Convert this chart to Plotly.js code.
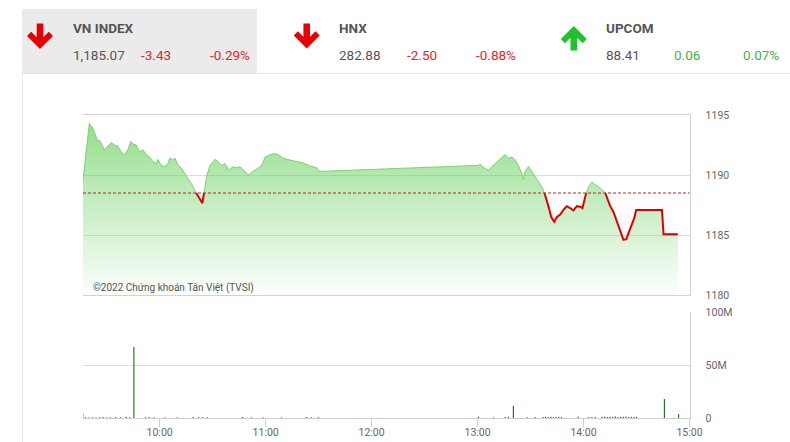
<!DOCTYPE html>
<html>
<head>
<meta charset="utf-8">
<script src="https://cdn.plot.ly/plotly-3.0.1.min.js"></script>
<style>
html,body{margin:0;padding:0;background:#fff;}
#chart{width:790px;height:442px;}
</style>
</head>
<body>
<div id="chart"></div>
<script>
// ---------- DATA ----------
const day = '2022-01-01 ';
const indexNames = ['VN INDEX', 'HNX', 'UPCOM'];
const indexValues = ['1,185.07', '282.88', '88.41'];
const indexChanges = ['-3.43', '-2.50', '0.06'];
const indexPercents = ['-0.29%', '-0.88%', '0.07%'];
const indexUp = [false, false, true];

const refValue = 1188.50;

const priceTimes = [
 '09:16:18','09:18:15','09:20:12','09:22:12','09:24:06','09:25:00','09:26:00','09:28:48','09:30:42','09:32:36',
 '09:34:30','09:36:24','09:38:12','09:40:12','09:42:00','09:43:36','09:44:54','09:46:42','09:48:42','09:50:30',
 '09:52:24','09:54:18','09:56:12','09:58:06','09:59:00','10:00:54','10:02:48','10:04:42','10:05:42','10:07:30',
 '10:08:42','10:10:24','10:12:12','10:14:12','10:16:00','10:17:54','10:19:48','10:20:42','10:22:42','10:24:12',
 '10:25:06','10:26:36','10:28:30','10:31:18','10:33:12','10:35:06','10:37:00','10:38:54','10:41:42','10:43:36',
 '10:45:30','10:47:24','10:50:12','10:52:06','10:54:00','10:55:54','10:57:48','10:59:42','11:02:30','11:04:24',
 '11:07:12','11:10:00','11:13:48','11:17:36','11:21:18','11:25:06','11:28:54','11:30:24',
 '13:00:30','13:01:30','13:02:24','13:04:18','13:06:12','13:08:06','13:10:00','13:11:48','13:13:42','13:15:36',
 '13:17:30','13:19:24','13:21:18','13:23:06','13:25:06','13:26:00','13:26:54','13:28:48','13:30:42','13:32:36',
 '13:34:30','13:36:24','13:37:54','13:39:12','13:40:30','13:41:42','13:43:24','13:44:54','13:46:48','13:48:36',
 '13:50:30','13:52:24','13:54:18','13:56:12','13:58:06','13:59:24','14:00:24','14:01:30','14:02:48','14:04:42',
 '14:06:36','14:08:30','14:10:24','14:12:18','14:13:36','14:15:06','14:17:00','14:18:54','14:20:48','14:22:36',
 '14:24:12','14:25:30','14:27:24','14:28:42','14:29:48','14:44:24','14:45:18','14:53:24'
];
const priceValues = [
 1189.2,1192.0,1194.3,1193.9,1193.2,1192.8,1192.9,1192.1,1192.4,1192.7,
 1192.5,1192.4,1191.9,1191.7,1192.1,1192.8,1192.6,1192.5,1191.9,1192.1,
 1191.7,1191.5,1191.1,1190.95,1191.3,1190.8,1190.7,1190.95,1191.4,1191.25,
 1191.4,1190.8,1190.6,1190.1,1189.7,1189.3,1188.75,1188.5,1188.05,1187.65,
 1188.5,1189.9,1190.8,1191.3,1191.1,1190.8,1190.95,1190.4,1190.7,1190.6,
 1190.7,1190.45,1190.0,1190.2,1190.4,1190.6,1190.8,1191.5,1191.7,1191.8,
 1191.7,1191.4,1191.25,1191.1,1191.0,1190.75,1190.6,1190.3,
 1190.8,1190.9,1190.7,1190.55,1190.4,1190.7,1190.95,1191.25,1191.5,1191.7,
 1191.4,1191.5,1191.25,1190.8,1190.1,1189.6,1190.3,1190.7,1190.3,1189.9,
 1189.45,1189.0,1188.5,1187.9,1187.2,1186.5,1186.1,1186.5,1186.7,1187.1,
 1187.4,1187.25,1187.05,1187.4,1187.35,1187.25,1187.9,1188.5,1189.0,1189.4,
 1189.2,1189.0,1188.8,1188.5,1187.9,1187.4,1186.9,1186.1,1185.3,1184.6,
 1184.65,1185.15,1185.8,1186.4,1187.08,1187.08,1185.07,1185.07
];

const volumeTimes = [
 '09:16:30','09:18:00','09:20:00','09:22:00','09:24:00','09:26:00','09:28:00','09:30:00','09:32:00','09:35:00',
 '09:38:00','09:41:00','09:43:00','09:45:24','09:52:00','09:54:00','09:57:00','10:03:00','10:10:00','10:19:00',
 '10:22:00','10:24:30','10:27:00','10:47:00','10:52:00','10:58:30','11:09:00','11:23:00','11:26:00','11:30:00',
 '13:00:30','13:09:00','13:15:36','13:17:30','13:20:18','13:28:00','13:32:36','13:37:00','13:38:30','13:40:00',
 '13:41:30','13:43:00','13:44:30','13:46:00','13:47:30','13:57:00','14:03:00','14:04:42','14:06:36','14:10:24',
 '14:12:00','14:13:30','14:15:00','14:16:30','14:18:00','14:19:30','14:21:00','14:22:30','14:24:00','14:25:30',
 '14:27:00','14:28:30','14:30:00','14:45:48','14:53:48'
];
const volumeValues = [
 4.2,1.0,0.8,1.1,0.7,0.9,1.2,0.8,1.0,1.3,
 1.1,1.4,0.9,67,1.0,1.2,0.9,1.1,1.0,1.3,
 1.1,0.9,1.0,1.2,0.9,1.0,1.1,1.2,0.9,1.0,
 1.4,1.0,1.2,1.5,11.9,1.0,1.2,1.3,1.5,1.2,
 1.4,1.1,1.3,1.5,1.2,1.4,1.3,1.0,1.2,1.5,
 1.6,1.3,1.4,1.5,1.7,1.3,1.5,1.4,1.6,1.3,
 1.5,1.2,1.4,18.2,4.0
];

const priceTicks = [1180, 1185, 1190, 1195];
const volumeTickVals = [0, 50, 100];
const volumeTickText = ['0', '50M', '100M'];
const copyrightText = '©2022 Chứng khoán Tân Việt (TVSI)';

// ---------- LAYOUT HELPERS ----------
const W = 790, H = 442;
const px = x => x / W;
const py = y => 1 - y / H;
const FONT = 'Roboto, "Liberation Sans", sans-serif';
const RED = '#e2262b', GREEN = '#3bb54a', GRAY = '#555555';

function arrowPath(cx, tip, tail, up) {
  const s = up ? 1 : -1;
  const pts = [
    [cx, tip],
    [cx - 13, tip + s * 13],
    [cx - 8.8, tip + s * 17.2],
    [cx - 3.3, tip + s * 11.7],
    [cx - 3.3, tail],
    [cx + 3.3, tail],
    [cx + 3.3, tip + s * 11.7],
    [cx + 8.8, tip + s * 17.2],
    [cx + 13, tip + s * 13]
  ];
  return 'M ' + pts.map(p => px(p[0]).toFixed(5) + ',' + py(p[1]).toFixed(5)).join(' L ') + ' Z';
}

const t = s => day + s;
const xs = priceTimes.map(t);
const below = priceValues.map(v => (v <= refValue ? v : null));

const traces = [
  {
    type: 'scatter', mode: 'lines', x: xs, y: priceValues, xaxis: 'x', yaxis: 'y',
    line: {color: 'rgba(105,205,95,0.85)', width: 1},
    fill: 'tozeroy',
    fillgradient: {
      type: 'vertical', start: 1180, stop: 1195,
      colorscale: [[0, 'rgba(90,205,80,0.02)'], [0.35, 'rgba(90,205,80,0.25)'], [0.7, 'rgba(90,205,80,0.48)'], [1, 'rgba(90,205,80,0.7)']]
    },
    hoverinfo: 'skip'
  },
  {
    type: 'scatter', mode: 'lines', x: xs, y: below, xaxis: 'x', yaxis: 'y',
    line: {color: '#e00000', width: 2}, connectgaps: false, hoverinfo: 'skip'
  },
  {
    type: 'bar', x: volumeTimes.map(t), y: volumeValues, xaxis: 'x2', yaxis: 'y2',
    width: 40000, marker: {color: '#1f7a1f', line: {width: 0}}, hoverinfo: 'skip'
  }
];

const xRange = [t('09:16:36'), t('15:00:00')];
const xDomain = [px(83), px(689.5)];
const axisFont = {family: FONT, size: 10.5, color: '#666'};

const annotations = [];
for (let i = 0; i < indexNames.length; i++) {
  const x0 = [72, 338, 605][i];
  const col = indexUp[i] ? GREEN : RED;
  annotations.push({xref: 'paper', yref: 'paper', x: px(x0 - 1), y: py(27.5), xanchor: 'left', yanchor: 'middle',
    text: '<b>' + indexNames[i] + '</b>', showarrow: false, font: {family: FONT, size: 13.5, color: GRAY}});
  annotations.push({xref: 'paper', yref: 'paper', x: px(x0 - 1), y: py(55), xanchor: 'left', yanchor: 'middle',
    text: indexValues[i], showarrow: false, font: {family: FONT, size: 13.5, color: GRAY}});
  annotations.push({xref: 'paper', yref: 'paper', x: px(x0 + 67), y: py(55), xanchor: 'left', yanchor: 'middle',
    text: indexChanges[i], showarrow: false, font: {family: FONT, size: 13.5, color: col}});
  annotations.push({xref: 'paper', yref: 'paper', x: px(x0 + 136.3), y: py(55), xanchor: 'left', yanchor: 'middle',
    text: indexPercents[i], showarrow: false, font: {family: FONT, size: 13.5, color: col}});
}
annotations.push({xref: 'paper', yref: 'paper', x: px(91), y: py(287.5), xanchor: 'left', yanchor: 'middle',
  text: copyrightText, showarrow: false, font: {family: FONT, size: 10, color: GRAY}});

const shapes = [
  {type: 'rect', xref: 'paper', yref: 'paper', x0: px(22), x1: px(257), y0: py(9), y1: py(73),
    fillcolor: '#ebebeb', line: {width: 0}, layer: 'below'},
  {type: 'line', xref: 'paper', yref: 'paper', x0: px(22), x1: px(790), y0: py(73.5), y1: py(73.5),
    line: {color: '#e4e4e4', width: 1}},
  {type: 'line', xref: 'paper', yref: 'paper', x0: px(22.5), x1: px(22.5), y0: py(73.5), y1: py(442),
    line: {color: '#ececec', width: 1}},
  {type: 'path', xref: 'paper', yref: 'paper', path: arrowPath(40, 49, 23.5, false), fillcolor: '#e80000', line: {width: 0}},
  {type: 'path', xref: 'paper', yref: 'paper', path: arrowPath(306.7, 48.5, 23.5, false), fillcolor: '#e80000', line: {width: 0}},
  {type: 'path', xref: 'paper', yref: 'paper', path: arrowPath(573.8, 26, 50.5, true), fillcolor: '#1fc22a', line: {width: 0}},
  {type: 'line', xref: 'x domain', yref: 'y', x0: 0, x1: 1, y0: refValue, y1: refValue,
    line: {color: '#c0201a', width: 1, dash: '3px,2px'}, layer: 'above'}
];

const layout = {
  width: W, height: H,
  margin: {l: 0, r: 0, t: 0, b: 0, pad: 0},
  paper_bgcolor: '#ffffff', plot_bgcolor: 'rgba(0,0,0,0)',
  showlegend: false,
  font: axisFont,
  xaxis: {
    type: 'date', domain: xDomain, range: xRange, anchor: 'y',
    showticklabels: false, ticks: '', showgrid: false, zeroline: false,
    showline: true, mirror: true, linecolor: '#d2d2d2', linewidth: 1
  },
  yaxis: {
    domain: [py(295), py(115)], range: [1180, 1195], side: 'right', anchor: 'x',
    tickvals: priceTicks, ticks: '', ticklabelstandoff: 13,
    showgrid: true, gridcolor: '#dedede', gridwidth: 1, zeroline: false,
    showline: true, linecolor: '#d2d2d2', linewidth: 1, tickfont: axisFont
  },
  xaxis2: {
    type: 'date', domain: xDomain, range: xRange, anchor: 'y2',
    tickformat: '%H:%M', dtick: 3600000, tick0: t('10:00:00'),
    ticks: 'outside', ticklen: 8, tickcolor: '#cfcfcf', tickwidth: 1, ticklabelstandoff: -4,
    showgrid: false, zeroline: false, showline: true, linecolor: '#cfcfcf', linewidth: 1,
    tickfont: axisFont
  },
  yaxis2: {
    domain: [py(418.3), py(312)], range: [0, 100], side: 'right', anchor: 'x2',
    tickvals: volumeTickVals, ticktext: volumeTickText, ticks: '', ticklabelstandoff: 13,
    showgrid: true, gridcolor: '#dedede', gridwidth: 1, zeroline: false,
    showline: true, linecolor: '#d2d2d2', linewidth: 1, tickfont: axisFont
  },
  annotations: annotations,
  shapes: shapes
};

Plotly.newPlot('chart', traces, layout, {staticPlot: true, displayModeBar: false});
</script>
</body>
</html>
